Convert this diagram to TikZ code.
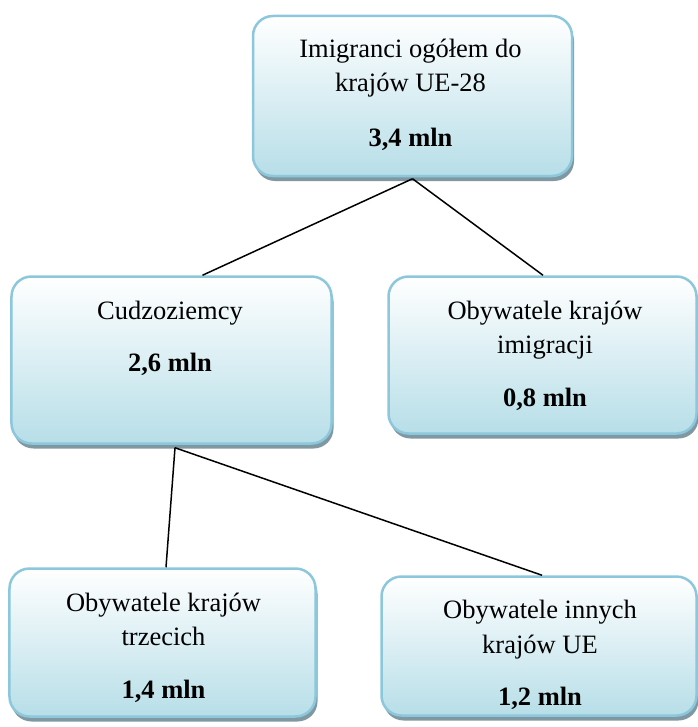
\documentclass[tikz,border=0pt]{standalone}
\usepackage{fontspec}
\setmainfont{Liberation Serif}
\usetikzlibrary{shadows,calc}
\definecolor{bordc}{RGB}{140,199,219}
\definecolor{fillc}{RGB}{183,222,232}
\definecolor{shadc}{RGB}{128,152,162}
\tikzset{
  box/.style={rounded corners=20bp, draw=bordc, line width=2.5bp,
    top color=white, bottom color=fillc, inner sep=0pt,
    drop shadow={shadow xshift=2bp, shadow yshift=-5bp, fill=shadc, opacity=1}},
  lbl/.style={anchor=base, inner sep=0pt, font=\fontsize{26.5bp}{30bp}\selectfont},
  num/.style={lbl, font=\fontsize{26.5bp}{30bp}\selectfont\bfseries},
  conn/.style={draw=black, line width=1.5bp}
}
\begin{document}
\begin{tikzpicture}[x=1bp,y=-1bp]
\useasboundingbox (0,0) rectangle (698,727);
% boxes
\node[box, minimum width=319bp, minimum height=160bp] (top) at (412.5,96) {};
\node[box, minimum width=320bp, minimum height=167bp] (cud) at (171.5,360) {};
\node[box, minimum width=308bp, minimum height=157bp] (imi) at (542.5,355) {};
\node[box, minimum width=306bp, minimum height=148bp] (tr) at (162.5,642.5) {};
\node[box, minimum width=315bp, minimum height=139bp] (ue) at (539,646) {};
% texts
\node[lbl] (t1) at (410.5,58) {Imigranci ogółem do};
\node[lbl] (t2) at (410.5,92) {krajów UE-28};
\node[num] (t3) at (410.5,146) {3,4 mln};
\node[lbl] (c1) at (170,319) {Cudzoziemcy};
\node[num] (c2) at (170,371) {2,6 mln};
\node[lbl] (i1) at (545,319) {Obywatele krajów};
\node[lbl] (i2) at (545,353) {imigracji};
\node[num] (i3) at (545,406) {0,8 mln};
\node[lbl] (r1) at (163.5,611) {Obywatele krajów};
\node[lbl] (r2) at (163.5,645) {trzecich};
\node[num] (r3) at (163.5,698) {1,4 mln};
\node[lbl] (u1) at (540,618) {Obywatele innych};
\node[lbl] (u2) at (540,653) {krajów UE};
\node[num] (u3) at (540,705) {1,2 mln};
% connectors
\draw[conn] ($(top.south)+(0,1.5)$) -- ($(cud.north)+(31,0)$);
\draw[conn] ($(top.south)+(0,1.5)$) -- ($(imi.north)+(0.5,0)$);
\draw[conn] ($(cud.south)+(3.5,3)$) -- ($(tr.north)+(3.5,0)$);
\draw[conn] ($(cud.south)+(3.5,3)$) -- ($(ue.north)+(3,0)$);
\end{tikzpicture}
\end{document}
